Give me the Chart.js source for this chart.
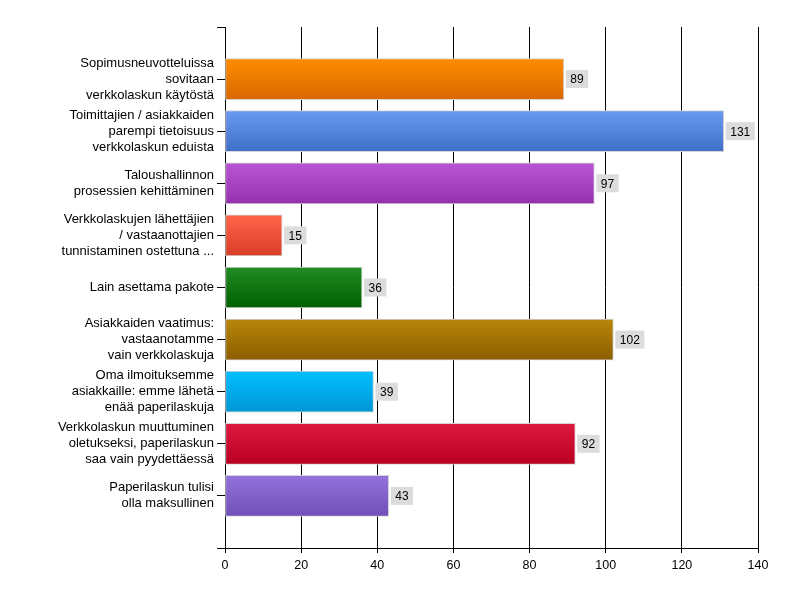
<!DOCTYPE html>
<html>
<head>
<meta charset="utf-8">
<script src="https://cdn.jsdelivr.net/npm/chart.js@4"></script>
<style>
  html, body { margin: 0; padding: 0; background: #fff; }
  #wrap { width: 800px; height: 600px; }
</style>
</head>
<body>
<div id="wrap"><canvas id="chart"></canvas></div>
<script>
// Kategoriat (rivitetty kuten alkuperäisessä)
const categories = [
  ['Sopimusneuvotteluissa', 'sovitaan', 'verkkolaskun käytöstä'],
  ['Toimittajien / asiakkaiden', 'parempi tietoisuus', 'verkkolaskun eduista'],
  ['Taloushallinnon', 'prosessien kehittäminen'],
  ['Verkkolaskujen lähettäjien', '/ vastaanottajien', 'tunnistaminen ostettuna ...'],
  ['Lain asettama pakote'],
  ['Asiakkaiden vaatimus:', 'vastaanotamme', 'vain verkkolaskuja'],
  ['Oma ilmoituksemme', 'asiakkaille: emme lähetä', 'enää paperilaskuja'],
  ['Verkkolaskun muuttuminen', 'oletukseksi, paperilaskun', 'saa vain pyydettäessä'],
  ['Paperilaskun tulisi', 'olla maksullinen']
];
const values = [89, 131, 97, 15, 36, 102, 39, 92, 43];
const xTicks = [0, 20, 40, 60, 80, 100, 120, 140];

// liukuvärit: ylä / ala
const topColors = ['#ff8c00', '#6a9af0', '#bb55d6', '#ff6649', '#238c23', '#b8860b', '#00bfff', '#de1840', '#9472dc'];
const bottomColors = ['#d86800', '#3f6fc6', '#9530ad', '#d83d28', '#006000', '#8c5e00', '#0096d4', '#b80022', '#7050b6'];

// tyhjä paikka ylä- ja alapäähän (alkuperäisessä kaaviossa väli molemmissa päissä)
const labels = [''].concat(categories, ['']);
const data = [null].concat(values, [null]);

const BAR_H = 41;
const FONT = '"Liberation Sans", Arial, sans-serif';

function barGradient(ctx) {
  const chart = ctx.chart;
  const i = ctx.dataIndex;
  const ys = chart.scales && chart.scales.y;
  if (!ys || i < 1 || i > values.length) return topColors[0];
  const cy = ys.getPixelForValue(i);
  const g = chart.ctx.createLinearGradient(0, cy - BAR_H / 2, 0, cy + BAR_H / 2);
  g.addColorStop(0, topColors[i - 1]);
  g.addColorStop(1, bottomColors[i - 1]);
  return g;
}

const valueBoxes = {
  id: 'valueBoxes',
  afterDatasetsDraw(chart) {
    const c = chart.ctx;
    const meta = chart.getDatasetMeta(0);
    c.save();
    c.font = '12px ' + FONT;
    c.textBaseline = 'middle';
    meta.data.forEach((bar, i) => {
      const v = data[i];
      if (v == null) return;
      const txt = String(v);
      const w = c.measureText(txt).width + 9;
      const x = bar.x + 2;
      c.fillStyle = '#dcdcdc';
      c.fillRect(x, bar.y - 9, w, 18);
      c.fillStyle = '#000';
      c.fillText(txt, x + 4.5, bar.y + 1);
    });
    c.restore();
  }
};

new Chart(document.getElementById('chart'), {
  type: 'bar',
  data: {
    labels: labels,
    datasets: [{
      data: data,
      backgroundColor: (ctx) => barGradient(ctx),
      borderColor: '#d4d4d4',
      borderWidth: 1,
      borderSkipped: false,
      barThickness: BAR_H
    }]
  },
  options: {
    indexAxis: 'y',
    responsive: true,
    maintainAspectRatio: false,
    animation: false,
    layout: { padding: { top: 27, right: 42, left: 0, bottom: 0 } },
    plugins: { legend: { display: false }, tooltip: { enabled: false } },
    scales: {
      x: {
        type: 'linear',
        min: 0,
        max: 140,
        afterBuildTicks: (s) => { s.ticks = xTicks.map(v => ({ value: v })); },
        afterFit: (s) => { s.height = 52; },
        grid: { color: '#000', lineWidth: 1, tickLength: 5 },
        border: { color: '#000', width: 1 },
        ticks: { color: '#000', padding: 5, font: { family: FONT, size: 12.5 } }
      },
      y: {
        type: 'category',
        offset: false,
        afterFit: (s) => { s.width = 225; },
        grid: { display: true, offset: false, drawOnChartArea: false, color: '#000', tickLength: 8 },
        border: { color: '#000', width: 1 },
        ticks: {
          color: '#000',
          padding: 3,
          autoSkip: false,
          font: { family: FONT, size: 13, lineHeight: '16px' }
        }
      }
    }
  },
  plugins: [valueBoxes]
});
</script>
</body>
</html>
